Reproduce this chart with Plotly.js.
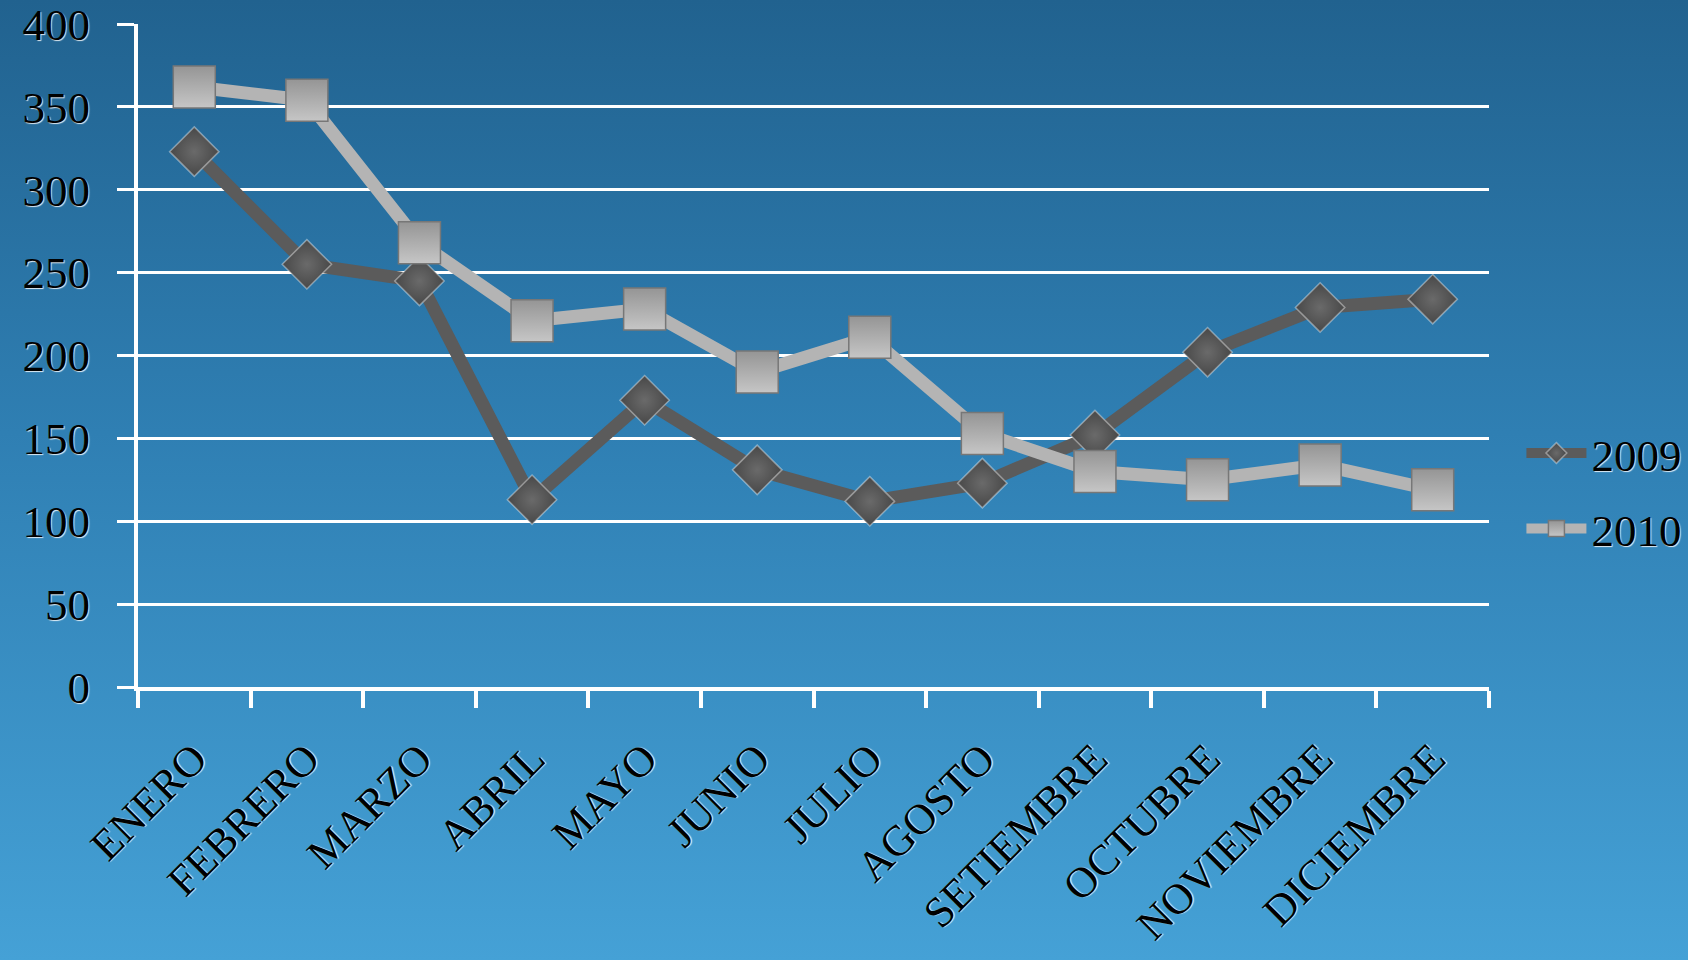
<!DOCTYPE html>
<html>
<head>
<meta charset="utf-8">
<script src="https://cdn.plot.ly/plotly-3.0.1.min.js"></script>
<style>
html,body{margin:0;padding:0;width:1688px;height:960px;overflow:hidden;}
body{background:linear-gradient(to bottom,#21628f 0%,#2f7fb3 45%,#45a1d6 100%);}
#chart{width:1688px;height:960px;}
</style>
</head>
<body>
<div id="chart"></div>
<script>
const months = ["ENERO","FEBRERO","MARZO","ABRIL","MAYO","JUNIO","JULIO","AGOSTO","SETIEMBRE","OCTUBRE","NOVIEMBRE","DICIEMBRE"];
const values2009 = [323, 255, 245, 113, 173, 131, 112, 123, 152, 202, 229, 234];
const values2010 = [362, 354, 268, 221, 228, 190, 211, 153, 130, 125, 134, 119];
const yTicks = [0, 50, 100, 150, 200, 250, 300, 350, 400];

const fontFamily = "'Liberation Serif', 'DejaVu Serif', serif";
const labelFont = {family: fontFamily, size: 45, color: "#000000", shadow: "1px 1px 1px rgba(255,255,255,0.85)"};
const xLabelFont = {family: fontFamily, size: 43, color: "#000000", shadow: "1px 1px 1px rgba(255,255,255,0.85)"};

const traces = [
  {
    x: months, y: values2009, name: "2009", type: "scatter", mode: "lines+markers",
    legendgroup: "a",
    line: {color: "#5b5b5b", width: 13},
    marker: {symbol: "diamond", size: 38, color: "#484848",
      gradient: {type: "radial", color: "#6a6a6a"},
      line: {color: "rgba(255,255,255,0.4)", width: 1.5}}
  },
  {
    x: months, y: values2010, name: "2010", type: "scatter", mode: "lines+markers",
    legendgroup: "b",
    line: {color: "#b4b4b4", width: 13},
    marker: {symbol: "square", size: 42, color: "#959595",
      gradient: {type: "vertical", color: "#c6c6c6"},
      line: {color: "#777777", width: 1.5}}
  }
];

const layout = {
  width: 1688, height: 960,
  paper_bgcolor: "rgba(0,0,0,0)",
  plot_bgcolor: "rgba(0,0,0,0)",
  margin: {l: 138, r: 199, t: 24, b: 273, pad: 0, autoexpand: false},
  font: labelFont,
  showlegend: true,
  legend: {
    x: 1.024, xanchor: "left", y: 0.296, yanchor: "middle",
    bgcolor: "rgba(0,0,0,0)",
    font: labelFont,
    itemwidth: 60,
    traceorder: "grouped",
    tracegroupgap: 14
  },
  xaxis: {
    type: "category",
    range: [-0.5, 11.5],
    showline: true, linecolor: "#ffffff", linewidth: 4,
    showgrid: false, zeroline: false,
    ticks: "outside", tickson: "boundaries", ticklen: 17, tickwidth: 4, tickcolor: "#ffffff",
    tickangle: -45,
    tickfont: xLabelFont,
    ticklabelstandoff: 25,
    ticklabeloverflow: "allow",
    fixedrange: true
  },
  yaxis: {
    range: [0, 400],
    tickvals: yTicks,
    ticktext: yTicks.map(String),
    showline: true, linecolor: "#ffffff", linewidth: 4,
    showgrid: true, gridcolor: "#ffffff", gridwidth: 3,
    zeroline: false,
    ticks: "outside", ticklen: 17, tickwidth: 3, tickcolor: "#ffffff",
    tickfont: labelFont,
    ticklabelstandoff: 18,
    ticklabeloverflow: "allow",
    fixedrange: true
  }
};

Plotly.newPlot("chart", traces, layout, {displayModeBar: false, staticPlot: true});
</script>
</body>
</html>
